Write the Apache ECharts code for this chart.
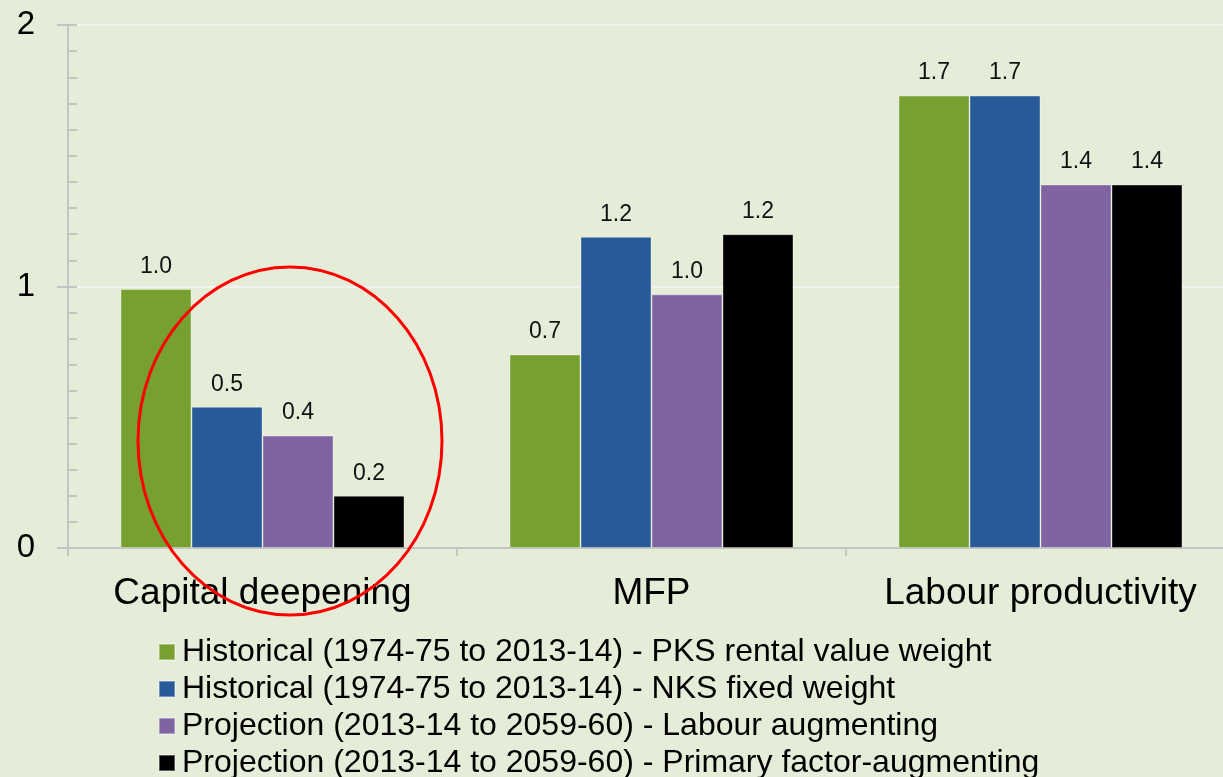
<!DOCTYPE html>
<html>
<head>
<meta charset="utf-8">
<script src="https://cdn.jsdelivr.net/npm/echarts@6/dist/echarts.min.js"></script>
<style>
html,body{margin:0;padding:0;background:#e5edd8;}
#chart{width:1223px;height:777px;}
</style>
</head>
<body>
<div id="chart"></div>
<script>
const categories = ['Capital deepening', 'MFP', 'Labour productivity'];
const seriesNames = [
  'Historical (1974-75 to 2013-14) - PKS rental value weight',
  'Historical (1974-75 to 2013-14) - NKS fixed weight',
  'Projection (2013-14 to 2059-60) - Labour augmenting',
  'Projection (2013-14 to 2059-60) - Primary factor-augmenting'
];
const pksRental = [0.99, 0.74, 1.73];
const nksFixed = [0.54, 1.19, 1.73];
const labourAug = [0.43, 0.97, 1.39];
const primaryAug = [0.20, 1.20, 1.39];
const yTicks = [0, 1, 2];
const colors = ['#77a031', '#285a9a', '#8064a2', '#000000'];

const chart = echarts.init(document.getElementById('chart'));
const FONT = 'Liberation Sans, Arial, sans-serif';
const dataSets = [pksRental, nksFixed, labourAug, primaryAug];

const series = dataSets.map((d, i) => ({
  name: seriesNames[i],
  type: 'bar',
  data: d,
  barGap: '0%',
  barCategoryGap: '27%',
  itemStyle: { color: colors[i], borderColor: 'rgba(255,255,255,0.35)', borderWidth: 1 },
  label: {
    show: true,
    position: 'top',
    distance: 11,
    fontSize: 23,
    fontFamily: FONT,
    color: '#111',
    formatter: p => p.value.toFixed(1)
  }
}));

const legends = seriesNames.map((name, i) => ({
  orient: 'vertical',
  left: 158,
  top: 636 + i * 37,
  itemWidth: 16,
  itemHeight: 16,
  itemGap: 0,
  icon: 'rect',
  padding: 0,
  textStyle: { fontSize: 32, fontFamily: FONT, color: '#000', lineHeight: 32, padding: [0, 0, 0, 2] },
  data: [name]
}));

chart.setOption({
  backgroundColor: '#e5edd8',
  animation: false,
  textStyle: { fontFamily: FONT },
  grid: { left: 68, top: 25, height: 523, width: 1167, containLabel: false, outerBoundsMode: 'none' },
  legend: legends,
  xAxis: {
    type: 'category',
    data: categories,
    axisLine: { lineStyle: { color: '#c4c4c4', width: 2 } },
    axisTick: { show: true, length: 8, lineStyle: { color: '#c4c4c4', width: 2 } },
    axisLabel: { fontSize: 37, color: '#000', margin: 27, fontFamily: FONT, interval: 0 }
  },
  yAxis: [{
    type: 'value',
    min: yTicks[0],
    max: yTicks[yTicks.length - 1],
    interval: 1,
    axisLine: { show: true, lineStyle: { color: '#c4c4c4', width: 2 } },
    axisTick: { show: true, length: 11, lineStyle: { color: '#c4c4c4', width: 2 } },
    axisLabel: { fontSize: 33, color: '#000', margin: 33, fontFamily: FONT },
    splitLine: { show: true, lineStyle: { color: '#f3f3f0', width: 2 } }
  }, {
    type: 'value',
    position: 'left',
    min: 0,
    max: 2,
    interval: 0.1,
    axisLine: { show: false },
    axisTick: { show: true, inside: true, length: 9, lineStyle: { color: '#c4c4c4', width: 2 } },
    axisLabel: { show: false },
    splitLine: { show: false }
  }],
  series: series,
  graphic: [{
    type: 'ellipse',
    shape: { cx: 290, cy: 441, rx: 152, ry: 174 },
    style: { fill: 'none', stroke: '#ff0000', lineWidth: 3 },
    z: 100
  }]
});
</script>
</body>
</html>
